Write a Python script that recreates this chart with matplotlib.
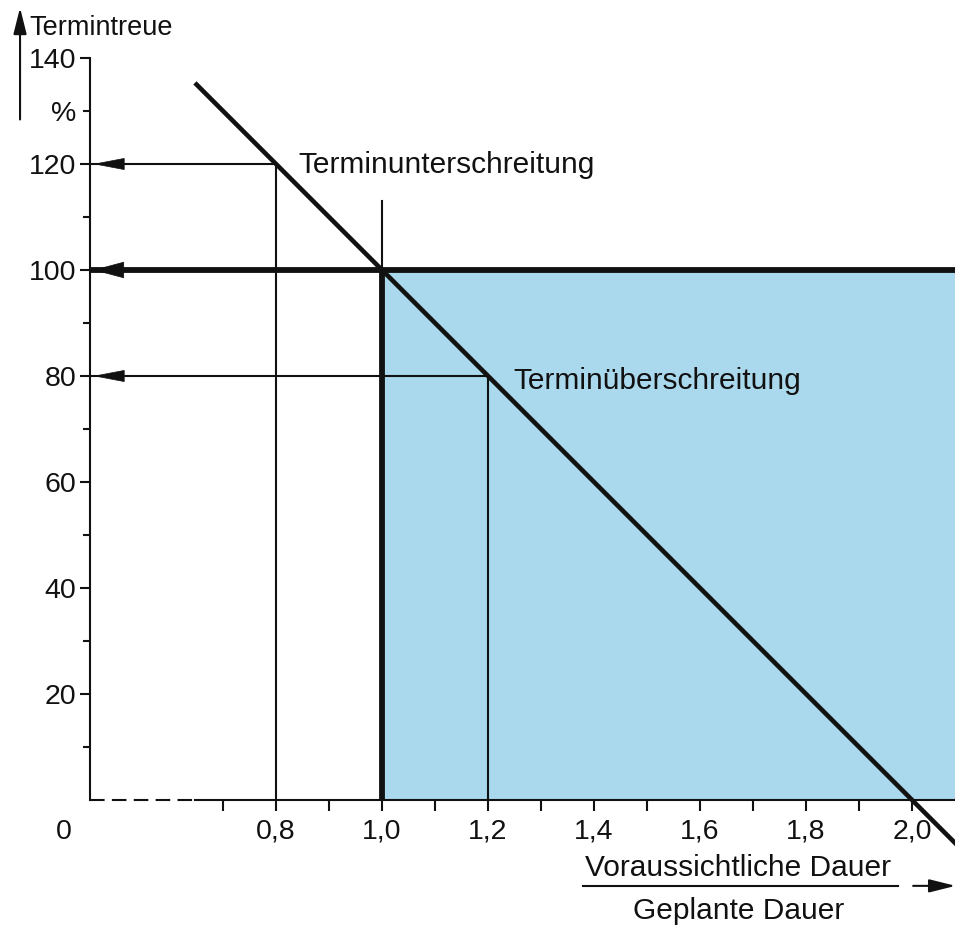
import matplotlib
matplotlib.use("Agg")
import matplotlib.pyplot as plt

# -----------------------------
# Data
# -----------------------------
ratio_points = [0.8, 1.0, 1.2]          # Voraussichtliche / Geplante Dauer
termintreue = [120, 100, 80]            # Termintreue in %
labels_points = ["Terminunterschreitung", "", "Terminüberschreitung"]

diag_x = [0.65, 2.09]                   # Termintreue-Gerade
diag_y = [135, -9]

x_major = [0.8, 1.0, 1.2, 1.4, 1.6, 1.8, 2.0]
x_major_labels = ["0,8", "1,0", "1,2", "1,4", "1,6", "1,8", "2,0"]
x_minor = [0.7, 0.9, 1.1, 1.3, 1.5, 1.7, 1.9]
y_major = [20, 40, 60, 80, 100, 120, 140]
y_major_labels = ["20", "40", "60", "80", "100", "120", "140"]
y_minor = [10, 30, 50, 70, 90, 110, 130]
y_minor_labels = ["", "", "", "", "", "", "%"]

X_MIN, X_MAX = 0.449, 2.081
Y_MIN, Y_MAX = 0, 140

# -----------------------------
# Style
# -----------------------------
plt.rcParams["font.family"] = ["Liberation Sans", "DejaVu Sans"]

INK = "#111111"
BLUE = "#aad8ec"
THIN = 1.5
THICK = 4.2
TICK_FS = 20.5
TEXT_FS = 21.5

# -----------------------------
# Figure
# -----------------------------
fig = plt.figure(figsize=(9.55, 9.26), dpi=100)
ax = fig.add_axes([90 / 955, 126 / 926, 865 / 955, 742 / 926])
ax.set_xlim(X_MIN, X_MAX)
ax.set_ylim(Y_MIN, Y_MAX)

for side in ("top", "right"):
    ax.spines[side].set_visible(False)
for side in ("left", "bottom"):
    ax.spines[side].set_linewidth(THIN)
    ax.spines[side].set_color(INK)
ax.spines["bottom"].set_bounds(0.647, X_MAX)

# broken part of the x axis
ax.plot([X_MIN, 0.647], [0, 0], color=INK, lw=THIN, dashes=(7, 3.5),
        clip_on=False, zorder=4)

# ticks
ax.set_xticks(x_major, x_major_labels)
ax.set_xticks(x_minor, minor=True)
ax.set_yticks(y_major, y_major_labels)
ax.set_yticks(y_minor, y_minor_labels, minor=True)
ax.tick_params(axis="both", which="both", direction="out", color=INK,
               width=THIN, labelsize=TICK_FS, labelcolor=INK)
ax.tick_params(axis="x", which="both", length=8, pad=5)
ax.tick_params(axis="y", which="major", length=7, pad=3)
ax.tick_params(axis="y", which="minor", length=5, pad=5)

# shaded area (overrun region)
ax.fill_between([ratio_points[1], X_MAX], 0, termintreue[1], color=BLUE,
                lw=0, zorder=1)

# guide lines with arrow heads on the y axis
for xv, yv in zip(ratio_points, termintreue):
    if yv == 100:
        ax.plot([X_MIN, X_MAX], [yv, yv], color=INK, lw=THICK,
                solid_capstyle="butt", zorder=3)
        ax.plot([xv, xv], [0, yv], color=INK, lw=THICK,
                solid_capstyle="butt", zorder=3)
        ax.plot([xv, xv], [yv, 113], color=INK, lw=THIN, zorder=3)
        head_w = 0.28
    else:
        ax.plot([X_MIN, xv], [yv, yv], color=INK, lw=THIN, zorder=3)
        ax.plot([xv, xv], [0, yv], color=INK, lw=THIN, zorder=3)
        head_w = 0.2
    ax.annotate("", xy=(0.455, yv), xytext=(0.53, yv),
                arrowprops=dict(arrowstyle=f"-|>,head_length=1.05,head_width={head_w}",
                                mutation_scale=20, color=INK, lw=0.5,
                                shrinkA=0, shrinkB=0),
                zorder=5)

# diagonal
ax.plot(diag_x, diag_y, color=INK, lw=3.3, clip_on=False, zorder=4)

# annotations
ax.text(0.842, 118.3, labels_points[0], fontsize=TEXT_FS, color=INK,
        ha="left", va="baseline", zorder=6)
ax.text(1.247, 77.6, labels_points[2], fontsize=TEXT_FS, color=INK,
        ha="left", va="baseline", zorder=6)

# origin label
ax.text(0.40, -6, "0", fontsize=TICK_FS, color=INK, ha="center", va="center",
        clip_on=False)

# y axis title with arrow
ax.annotate("", xy=(0.317, 149.5), xytext=(0.317, 128.4),
            arrowprops=dict(arrowstyle="-|>,head_length=1.0,head_width=0.25",
                            mutation_scale=16, color=INK, lw=THIN,
                            shrinkA=0, shrinkB=0),
            annotation_clip=False)
ax.text(0.334, 144.4, "Termintreue", fontsize=19.5, color=INK,
        ha="left", va="baseline", clip_on=False)

# x axis title as a fraction with arrow
ax.text(1.672, -14.3, "Voraussichtliche Dauer", fontsize=TEXT_FS, color=INK,
        ha="center", va="baseline", clip_on=False)
ax.plot([1.379, 1.974], [-16.2, -16.2], color=INK, lw=THIN, clip_on=False)
ax.text(1.672, -22.4, "Geplante Dauer", fontsize=TEXT_FS, color=INK,
        ha="center", va="baseline", clip_on=False)
ax.annotate("", xy=(2.082, -16.2), xytext=(2.002, -16.2),
            arrowprops=dict(arrowstyle="-|>,head_length=1.0,head_width=0.25",
                            mutation_scale=16, color=INK, lw=THIN,
                            shrinkA=0, shrinkB=0),
            annotation_clip=False)

fig.savefig("out.png", dpi=100)
